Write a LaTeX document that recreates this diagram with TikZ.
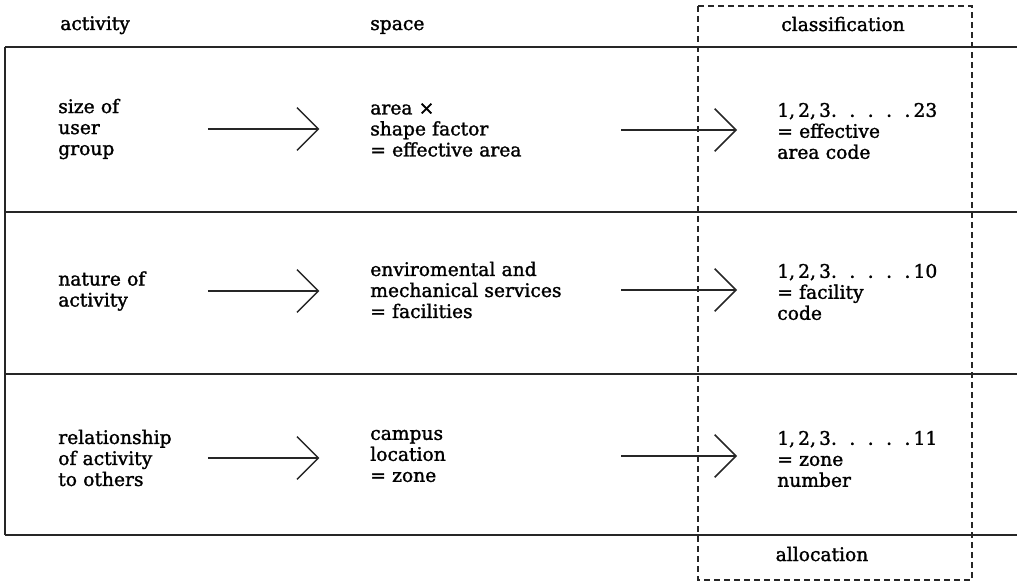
\documentclass[tikz,border=0pt]{standalone}
\usepackage{fontspec}
\setmainfont{DejaVu Serif}[FakeBold=1.5]
\usetikzlibrary{arrows.meta}

\begin{document}
\begin{tikzpicture}[
  x=0.75pt, y=-0.75pt,
  font=\fontsize{14}{15.75}\selectfont,
  head/.style={inner sep=0pt, text height=9pt, text depth=3pt},
  txt/.style={anchor=west, align=left, inner sep=0pt, text width=#1},
  txt/.default=112pt,
  rule/.style={line width=1pt, black!85},
  frame/.style={dash pattern=on 4.5pt off 3pt, line width=0.9pt, black!85},
  arr/.style={-{Straight Barb[length=16pt,width=32pt,line width=1.1pt]}, line width=1.1pt, black!85, shorten >=#1}]
\useasboundingbox (0,0) rectangle (1017,584);
% table rules
\foreach \y in {47,212,374,535}
  \draw[rule] (5,\y) -- (1017,\y);
\draw[rule] (5,47) -- (5,535);
\draw[frame] (698,6) rectangle (972,580);
% column heads
\node[head, anchor=west] (hact) at (60,26) {activity};
\node[head, anchor=west] (hspc) at (370,26) {space};
\node[head] (hcls) at (843,27) {classification};
\node[head] (halloc) at (822,557) {allocation};
% row 1
\node[txt] (act1) at (58,129) {size of\\user\\group};
\node[txt=188pt] (spc1) at (370,130) {area ×\\shape factor\\= effective area};
\node[txt=150pt] (cls1) at (777,131) {1,\,2,\,3.\ \ .\ \ .\ \ .\ \ .\,23\\= effective\\area code};
% row 2
\node[txt] (act2) at (58,291) {nature of\\activity};
\node[txt=188pt] (spc2) at (370,290) {enviromental and\\mechanical services\\= facilities};
\node[txt=150pt] (cls2) at (777,292) {1,\,2,\,3.\ \ .\ \ .\ \ .\ \ .\,10\\= facility\\code};
% row 3
\node[txt] (act3) at (58,458) {relationship\\of activity\\to others};
\node[txt=188pt] (spc3) at (370,456) {campus\\location\\= zone};
\node[txt=150pt] (cls3) at (777,459) {1,\,2,\,3.\ \ .\ \ .\ \ .\ \ .\,11\\= zone\\number};
% arrows
\foreach \i in {1,2,3} {
  \draw[arr=38pt] (act\i.east) -- (act\i.east-|spc\i.west);
  \draw[arr=30pt] (spc\i.east) -- (spc\i.east-|cls\i.west);
}
\end{tikzpicture}
\end{document}
